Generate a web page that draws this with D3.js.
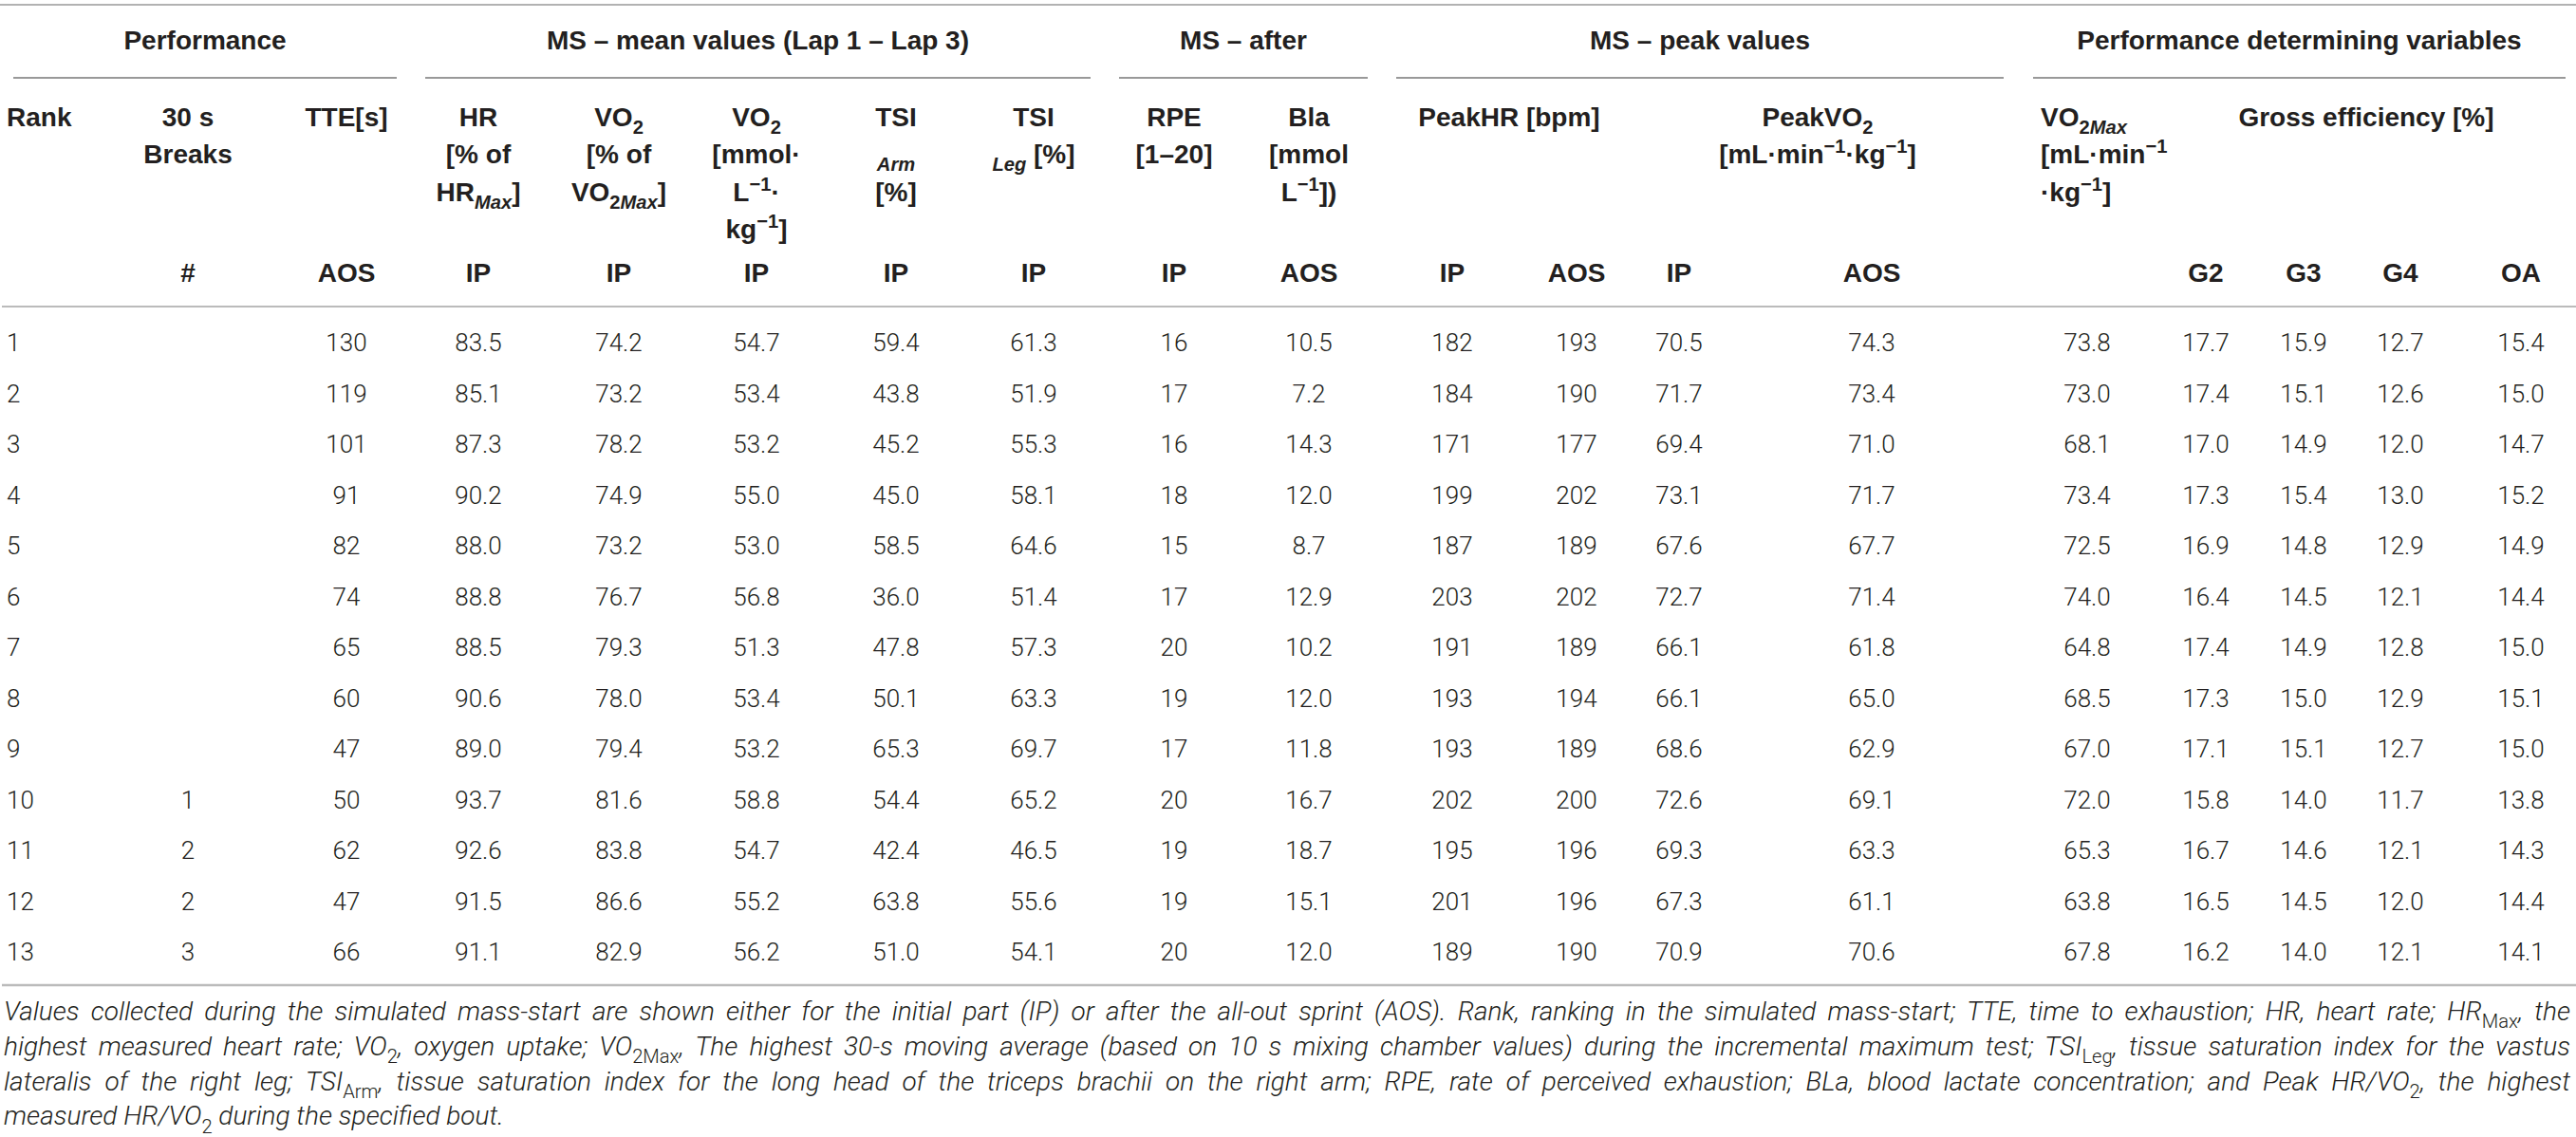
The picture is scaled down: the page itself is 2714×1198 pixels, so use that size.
<!DOCTYPE html>
<html>
<head>
<meta charset="utf-8">
<script src="https://cdn.jsdelivr.net/npm/d3@7/dist/d3.min.js"></script>
<style>
  body { margin: 0; background: #fff; }
  text { fill: #231f20; }
</style>
</head>
<body>
<svg id="tbl"></svg>
<script>
var rank = [1, 2, 3, 4, 5, 6, 7, 8, 9, 10, 11, 12, 13];
var breaks = [null, null, null, null, null, null, null, null, null, 1, 2, 2, 3];
var tte = [130, 119, 101, 91, 82, 74, 65, 60, 47, 50, 62, 47, 66];
var hrPct = [83.5, 85.1, 87.3, 90.2, 88.0, 88.8, 88.5, 90.6, 89.0, 93.7, 92.6, 91.5, 91.1];
var vo2Pct = [74.2, 73.2, 78.2, 74.9, 73.2, 76.7, 79.3, 78.0, 79.4, 81.6, 83.8, 86.6, 82.9];
var vo2Abs = [54.7, 53.4, 53.2, 55.0, 53.0, 56.8, 51.3, 53.4, 53.2, 58.8, 54.7, 55.2, 56.2];
var tsiArm = [59.4, 43.8, 45.2, 45.0, 58.5, 36.0, 47.8, 50.1, 65.3, 54.4, 42.4, 63.8, 51.0];
var tsiLeg = [61.3, 51.9, 55.3, 58.1, 64.6, 51.4, 57.3, 63.3, 69.7, 65.2, 46.5, 55.6, 54.1];
var rpe = [16, 17, 16, 18, 15, 17, 20, 19, 17, 20, 19, 19, 20];
var bla = [10.5, 7.2, 14.3, 12.0, 8.7, 12.9, 10.2, 12.0, 11.8, 16.7, 18.7, 15.1, 12.0];
var peakHrIP = [182, 184, 171, 199, 187, 203, 191, 193, 193, 202, 195, 201, 189];
var peakHrAOS = [193, 190, 177, 202, 189, 202, 189, 194, 189, 200, 196, 196, 190];
var peakVo2IP = [70.5, 71.7, 69.4, 73.1, 67.6, 72.7, 66.1, 66.1, 68.6, 72.6, 69.3, 67.3, 70.9];
var peakVo2AOS = [74.3, 73.4, 71.0, 71.7, 67.7, 71.4, 61.8, 65.0, 62.9, 69.1, 63.3, 61.1, 70.6];
var vo2Max = [73.8, 73.0, 68.1, 73.4, 72.5, 74.0, 64.8, 68.5, 67.0, 72.0, 65.3, 63.8, 67.8];
var geG2 = [17.7, 17.4, 17.0, 17.3, 16.9, 16.4, 17.4, 17.3, 17.1, 15.8, 16.7, 16.5, 16.2];
var geG3 = [15.9, 15.1, 14.9, 15.4, 14.8, 14.5, 14.9, 15.0, 15.1, 14.0, 14.6, 14.5, 14.0];
var geG4 = [12.7, 12.6, 12.0, 13.0, 12.9, 12.1, 12.8, 12.9, 12.7, 11.7, 12.1, 12.0, 12.1];
var geOA = [15.4, 15.0, 14.7, 15.2, 14.9, 14.4, 15.0, 15.1, 15.0, 13.8, 14.3, 14.4, 14.1];

// group titles over the columns
var groupTitles = ["Performance", "MS \u2013 mean values (Lap 1 \u2013 Lap 3)", "MS \u2013 after",
  "MS \u2013 peak values", "Performance determining variables"];

// column header lines ( _{..} sub, ^{..} sup, *..* italic )
var colKeys = ["rank", "breaks", "tte", "hrPct", "vo2Pct", "vo2Abs", "tsiArm", "tsiLeg", "rpe", "bla",
  "peakHrIP", "peakHrAOS", "peakVo2IP", "peakVo2AOS", "vo2Max", "geG2", "geG3", "geG4", "geOA"];
var headLines = [
  ["Rank"], ["30 s", "Breaks"], ["TTE[s]"],
  ["HR", "[% of", "HR_{*Max*}]"],
  ["VO_{2}", "[% of", "VO_{2}_{*Max*}]"],
  ["VO_{2}", "[mmol\u00b7", "L^{\u22121}\u00b7", "kg^{\u22121}]"],
  ["TSI", "_{*Arm*}", "[%]"],
  ["TSI", "_{*Leg*} [%]"],
  ["RPE", "[1\u201320]"],
  ["Bla", "[mmol", "L^{\u22121}])"],
  [], [], [], [],
  ["VO_{2}_{*Max*}", "[mL\u00b7min^{\u22121}", "\u00b7kg^{\u22121}]"],
  [], [], [], []
];
var spanHeads = ["PeakHR [bpm]", "PeakVO_{2}|[mL\u00b7min^{\u22121}\u00b7kg^{\u22121}]", "Gross efficiency [%]"];
var subHeads = ["", "#", "AOS", "IP", "IP", "IP", "IP", "IP", "IP", "AOS", "IP", "AOS", "IP", "AOS", "", "G2", "G3", "G4", "OA"];

var notes = [
  "Values collected during the simulated mass-start are shown either for the initial part (IP) or after the all-out sprint (AOS). Rank, ranking in the simulated mass-start; TTE, time to exhaustion; HR, heart rate; HR_{Max}, the",
  "highest measured heart rate; VO_{2}, oxygen uptake; VO_{2Max}, The highest 30-s moving average (based on 10 s mixing chamber values) during the incremental maximum test; TSI_{Leg}, tissue saturation index for the vastus",
  "lateralis of the right leg; TSI_{Arm}, tissue saturation index for the long head of the triceps brachii on the right arm; RPE, rate of perceived exhaustion; BLa, blood lactate concentration; and Peak HR/VO_{2}, the highest",
  "measured HR/VO_{2} during the specified bout."
];

// ---- layout ----
var width = 2714, height = 1198;
var colX = d3.scaleOrdinal().domain(colKeys)
  .range([7, 198, 365, 504, 652, 797, 944, 1089, 1237, 1379, 1530, 1661, 1769, 1972, 2199, 2324, 2427, 2529, 2656]);
var rowY = d3.scalePoint().domain(rank).range([370, 1012]);
var groupSpans = [[14, 418], [448, 1149], [1179, 1441], [1471, 2111], [2142, 2703]];
var headFont = "'Liberation Sans', Arial, sans-serif";
var bodyFont = "Roboto, 'Liberation Sans', sans-serif";

var svg = d3.select("#tbl").attr("width", width).attr("height", height);

// writes marked-up text into a <text> as tspans
function rich(sel, str, size) {
  var parts = str.split(/(_\{[^}]*\}|\^\{[^}]*\})/).filter(function (p) { return p !== ""; });
  var shift = 0;
  parts.forEach(function (p) {
    var target = 0, fs = size, txt = p;
    if (p[0] === "_") { target = size * 0.3; fs = size * 0.72; txt = p.slice(2, -1); }
    else if (p[0] === "^") { target = -size * 0.38; fs = size * 0.72; txt = p.slice(2, -1); }
    var italic = false;
    if (txt[0] === "*" && txt[txt.length - 1] === "*") { italic = true; txt = txt.slice(1, -1); }
    var t = sel.append("tspan").text(txt).attr("font-size", fs);
    if (target !== shift) t.attr("dy", target - shift);
    if (italic) t.attr("font-style", "italic");
    else if (p[0] === "_" || p[0] === "^") t.attr("font-style", "normal");
    shift = target;
  });
}

// rules
svg.append("line").attr("x1", 0).attr("x2", width).attr("y1", 5).attr("y2", 5)
  .attr("stroke", "#999").attr("stroke-width", 1.5);
svg.append("line").attr("x1", 2).attr("x2", width).attr("y1", 323).attr("y2", 323)
  .attr("stroke", "#bbb").attr("stroke-width", 2);
svg.append("line").attr("x1", 2).attr("x2", width).attr("y1", 1038).attr("y2", 1038)
  .attr("stroke", "#bbb").attr("stroke-width", 2.5);

// group titles
svg.selectAll(".grp").data(groupTitles).enter().append("text")
  .attr("class", "grp")
  .attr("x", function (d, i) { return (groupSpans[i][0] + groupSpans[i][1]) / 2; })
  .attr("y", 52)
  .attr("text-anchor", "middle")
  .attr("font-family", headFont).attr("font-weight", "bold").attr("font-size", 28)
  .text(function (d) { return d; });
svg.selectAll(".grpline").data(groupSpans).enter().append("line")
  .attr("x1", function (d) { return d[0]; }).attr("x2", function (d) { return d[1]; })
  .attr("y1", 82).attr("y2", 82)
  .attr("stroke", "#777").attr("stroke-width", 1.3);

// column headers
var headBase = [133, 172, 212, 251];
colKeys.forEach(function (k, ci) {
  headLines[ci].forEach(function (line, li) {
    var t = svg.append("text")
      .attr("x", k === "vo2Max" ? 2150 : colX(k))
      .attr("y", headBase[li])
      .attr("text-anchor", (k === "rank" || k === "vo2Max") ? "start" : "middle")
      .attr("font-family", headFont).attr("font-weight", "bold").attr("font-size", 28);
    rich(t, line, 28);
  });
});
// headers spanning two or more columns
var spanX = [1590, 1915, 2493];
spanHeads.forEach(function (h, i) {
  h.split("|").forEach(function (line, li) {
    var t = svg.append("text")
      .attr("x", spanX[i]).attr("y", headBase[li])
      .attr("text-anchor", "middle")
      .attr("font-family", headFont).attr("font-weight", "bold").attr("font-size", 28);
    rich(t, line, 28);
  });
});
svg.selectAll(".sub").data(colKeys).enter().append("text")
  .attr("class", "sub")
  .attr("x", function (d) { return colX(d); })
  .attr("y", 297)
  .attr("text-anchor", "middle")
  .attr("font-family", headFont).attr("font-weight", "bold").attr("font-size", 28)
  .text(function (d, i) { return subHeads[i]; });

// body cells
var columns = [
  { key: "rank", values: rank, fmt: d3.format("d") },
  { key: "breaks", values: breaks, fmt: d3.format("d") },
  { key: "tte", values: tte, fmt: d3.format("d") },
  { key: "hrPct", values: hrPct, fmt: d3.format(".1f") },
  { key: "vo2Pct", values: vo2Pct, fmt: d3.format(".1f") },
  { key: "vo2Abs", values: vo2Abs, fmt: d3.format(".1f") },
  { key: "tsiArm", values: tsiArm, fmt: d3.format(".1f") },
  { key: "tsiLeg", values: tsiLeg, fmt: d3.format(".1f") },
  { key: "rpe", values: rpe, fmt: d3.format("d") },
  { key: "bla", values: bla, fmt: d3.format(".1f") },
  { key: "peakHrIP", values: peakHrIP, fmt: d3.format("d") },
  { key: "peakHrAOS", values: peakHrAOS, fmt: d3.format("d") },
  { key: "peakVo2IP", values: peakVo2IP, fmt: d3.format(".1f") },
  { key: "peakVo2AOS", values: peakVo2AOS, fmt: d3.format(".1f") },
  { key: "vo2Max", values: vo2Max, fmt: d3.format(".1f") },
  { key: "geG2", values: geG2, fmt: d3.format(".1f") },
  { key: "geG3", values: geG3, fmt: d3.format(".1f") },
  { key: "geG4", values: geG4, fmt: d3.format(".1f") },
  { key: "geOA", values: geOA, fmt: d3.format(".1f") }
];
var cells = [];
columns.forEach(function (c) {
  c.values.forEach(function (v, r) {
    if (v !== null) cells.push({ key: c.key, rank: rank[r], label: c.fmt(v) });
  });
});
svg.selectAll(".cell").data(cells).enter().append("text")
  .attr("class", "cell")
  .attr("x", function (d) { return colX(d.key); })
  .attr("y", function (d) { return rowY(d.rank); })
  .attr("text-anchor", function (d) { return d.key === "rank" ? "start" : "middle"; })
  .attr("font-family", bodyFont).attr("font-weight", 300).attr("font-size", 26)
  .text(function (d) { return d.label; });

// footnote, justified to the table width
notes.forEach(function (n, i) {
  var t = svg.append("text")
    .attr("x", 4).attr("y", 1075 + i * 36.8)
    .attr("font-family", bodyFont).attr("font-weight", 300)
    .attr("font-style", "italic").attr("font-size", 28);
  rich(t, n, 28);
  if (i < notes.length - 1) {
    var len = t.node().getComputedTextLength();
    var gaps = n.split(" ").length - 1;
    t.attr("word-spacing", (2704 - len) / gaps);
  }
});
</script>
</body>
</html>
